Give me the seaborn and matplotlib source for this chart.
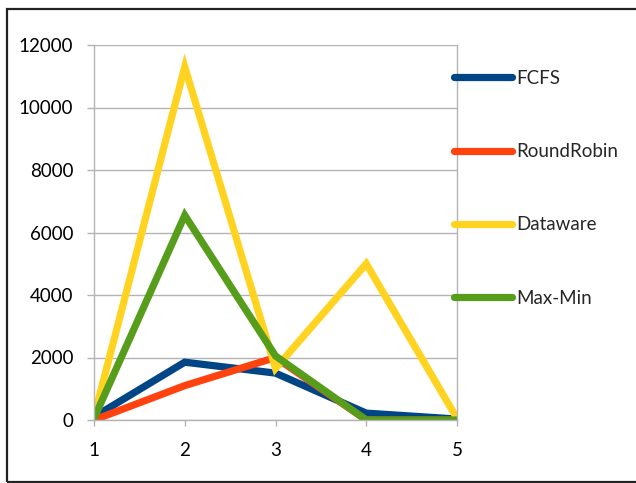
import matplotlib
matplotlib.use("Agg")
import matplotlib.pyplot as plt
import seaborn as sns
import pandas as pd
from matplotlib.patches import Rectangle

# Run index on the x axis and the measured value of each scheduler
runs = [1, 2, 3, 4, 5]
fcfs = [100, 1850, 1500, 220, 30]
round_robin = [0, 1100, 2000, 0, 0]
dataware = [100, 11300, 1650, 5000, 50]
max_min = [50, 6550, 2050, 0, 0]

series_names = ["FCFS", "RoundRobin", "Dataware", "Max-Min"]
series_values = [fcfs, round_robin, dataware, max_min]
colors = ["#004586", "#ff420e", "#ffd320", "#579d1c"]
y_ticks = [0, 2000, 4000, 6000, 8000, 10000, 12000]

df = pd.DataFrame(
    [(r, name, v) for name, vals in zip(series_names, series_values) for r, v in zip(runs, vals)],
    columns=["run", "scheduler", "value"],
)

sns.set_theme(style="white")
plt.rcParams["font.family"] = ["Lato", "DejaVu Sans"]

fig = plt.figure(figsize=(6.36, 4.83), dpi=100)
ax = fig.add_axes([94 / 636, 1 - 420 / 483, (457 - 94) / 636, (420 - 45) / 483])

sns.lineplot(
    data=df, x="run", y="value", hue="scheduler", hue_order=series_names,
    palette=colors, linewidth=5.2, ax=ax, legend=False,
    solid_capstyle="round", solid_joinstyle="miter",
)

ax.set_xlim(1, 5)
ax.set_ylim(0, 12000)
ax.set_xticks(runs)
ax.set_xticklabels([str(r) for r in runs])
ax.set_yticks(y_ticks)
ax.set_yticklabels([str(t) for t in y_ticks])
ax.set_xlabel("")
ax.set_ylabel("")

grid_gray = "#b3b3b3"
ax.yaxis.grid(True, color=grid_gray, linewidth=1)
ax.xaxis.grid(False)
ax.set_axisbelow(True)
for side in ["left", "right", "bottom"]:
    ax.spines[side].set_visible(True)
    ax.spines[side].set_color(grid_gray)
    ax.spines[side].set_linewidth(1)
ax.spines["top"].set_visible(False)

ax.tick_params(axis="y", direction="out", length=5, width=1, color=grid_gray,
               labelsize=13.5, labelcolor="black", pad=10, left=True)
ax.tick_params(axis="x", direction="out", length=4.5, width=1, color=grid_gray,
               labelsize=13.5, labelcolor="black", pad=11, bottom=True)

# Legend at the right, one entry per scheduler
handles = [plt.Line2D([], [], color=c, linewidth=5.2, solid_capstyle="round") for c in colors]
leg = fig.legend(
    handles, series_names, loc="upper left", bbox_to_anchor=(454 / 636, 1 - 70 / 483),
    frameon=False, fontsize=13.5, handlelength=3.1, handletextpad=0.2,
    labelspacing=3.0, borderaxespad=0, borderpad=0,
)

# Frame around the chart
fig.patches.append(Rectangle((7 / 636, 1 - 482 / 483), 1.0, 473 / 483,
                             transform=fig.transFigure, fill=False,
                             edgecolor="#222222", linewidth=1.6))

fig.savefig("out.png", dpi=100)
